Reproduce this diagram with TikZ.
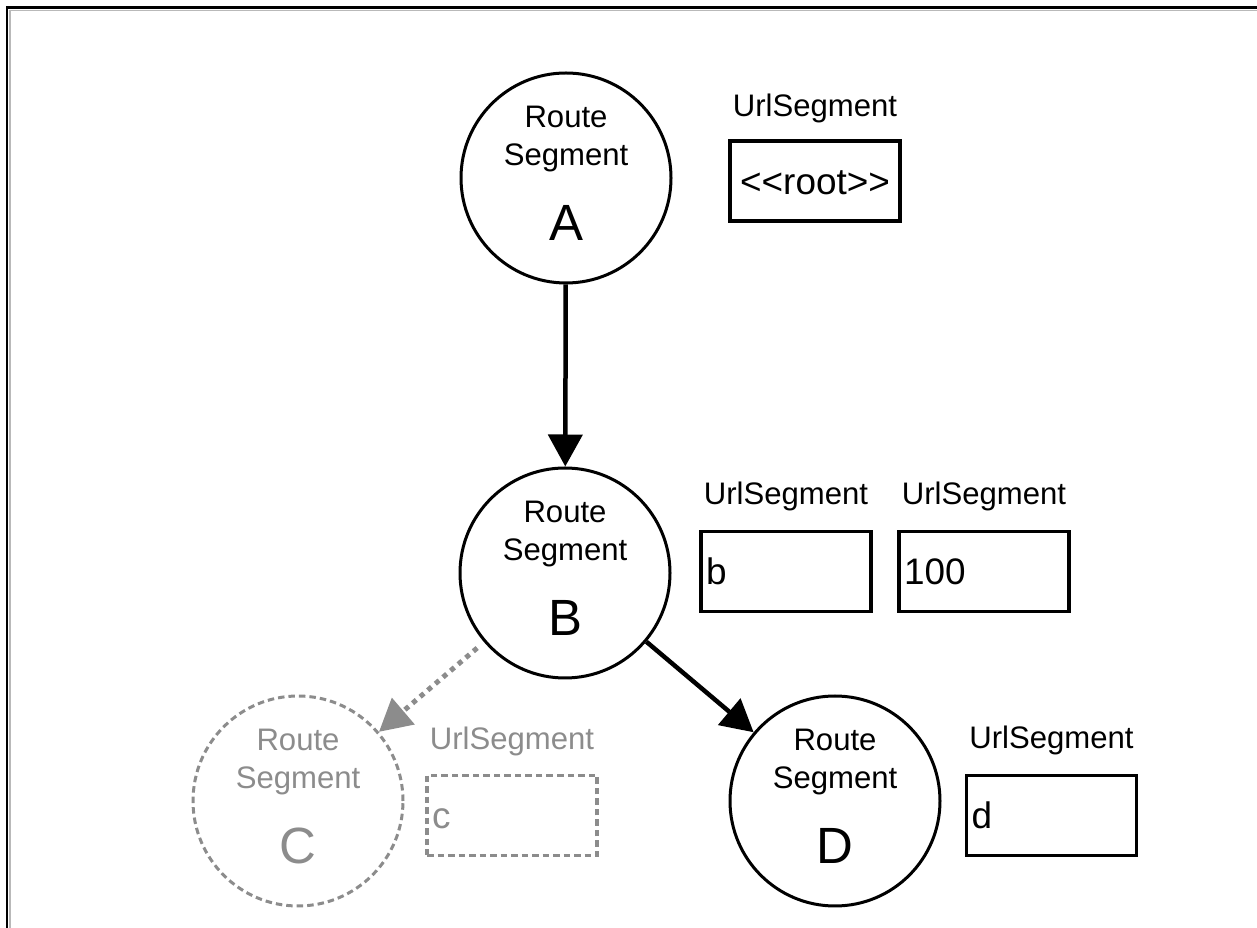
\documentclass[tikz,border=0pt]{standalone}
\usepackage{fontspec}
\setmainfont{Liberation Sans}
\usetikzlibrary{arrows.meta}

\definecolor{faded}{gray}{0.55}
\newcommand{\segfont}{\fontsize{17.7pt}{21.6pt}\selectfont}
\newcommand{\namefont}{\fontsize{29pt}{34pt}\selectfont}
\newcommand{\valfont}{\fontsize{21pt}{25pt}\selectfont}

\tikzset{
  seg/.style={circle, draw, line width=0.06cm, minimum size=4.2cm, inner sep=0pt},
  segtxt/.style={align=center, font=\segfont, inner sep=0pt},
  segname/.style={font=\namefont, text height=0.73cm, text depth=0pt, inner sep=0pt},
  urlbox/.style={rectangle, draw, line width=0.07cm, minimum height=1.6cm,
    text width=3.2cm, inner xsep=0.1cm, align=left, font=\valfont,
    text height=0.53cm, text depth=0pt},
  urllab/.style={font=\segfont, anchor=base, inner sep=0pt},
  ghost/.style={faded, dash pattern=on 0.13cm off 0.08cm},
  link/.style={line width=0.09cm, -{Triangle[length=0.64cm,width=0.68cm]}},
}

\begin{document}
\begin{tikzpicture}
    \useasboundingbox (0,0) rectangle (25.14,18.56);
    % frame
    \draw[line width=0.06cm] (0.14,0) -- (0.14,18.4) -- (25.14,18.4);
    \draw[gray!55, line width=0.02cm] (0.2,0) -- (0.2,18.34) -- (25.14,18.34);

    % route segments
    \node[seg] (A) at (11.32,15.00) {};
    \node[segtxt] (Atxt) at ([yshift=0.77cm]A.center) {Route\\Segment};
    \node[segname] (Aname) at ([yshift=-0.88cm]A.center) {A};

    \node[seg] (B) at (11.30,7.10) {};
    \node[segtxt] (Btxt) at ([yshift=0.77cm]B.center) {Route\\Segment};
    \node[segname] (Bname) at ([yshift=-0.88cm]B.center) {B};

    \node[seg, ghost] (C) at (5.96,2.54) {};
    \node[segtxt, faded] (Ctxt) at ([yshift=0.77cm]C.center) {Route\\Segment};
    \node[segname, faded] (Cname) at ([yshift=-0.88cm]C.center) {C};

    \node[seg] (D) at (16.70,2.54) {};
    \node[segtxt] (Dtxt) at ([yshift=0.77cm]D.center) {Route\\Segment};
    \node[segname] (Dname) at ([yshift=-0.88cm]D.center) {D};

    % url segments
    \node[urlbox, align=center] (root) at (16.30,14.94) {<\kern0pt<root>\kern0pt>};
    \node[urlbox] (b) at (15.72,7.13) {b};
    \node[urlbox] (hundred) at (19.68,7.13) {100};
    \node[urlbox, ghost] (c) at (10.24,2.25) {c};
    \node[urlbox] (d) at (21.03,2.25) {d};

    \node[urllab] (rootlab) at ([yshift=0.46cm]root.north) {UrlSegment};
    \node[urllab] (blab) at ([yshift=0.5cm]b.north) {UrlSegment};
    \node[urllab] (hundredlab) at ([yshift=0.5cm]hundred.north) {UrlSegment};
    \node[urllab, faded] (clab) at ([yshift=0.48cm]c.north) {UrlSegment};
    \node[urllab] (dlab) at ([yshift=0.5cm]d.north) {UrlSegment};

    % links
    \draw[link] (A) -- (B);
    \draw[link] (B) -- (D);
    \draw[link, faded, line width=0.1cm, dash pattern=on 0.1cm off 0.1cm, shorten <=0.18cm] (B) -- (C);
\end{tikzpicture}
\end{document}
